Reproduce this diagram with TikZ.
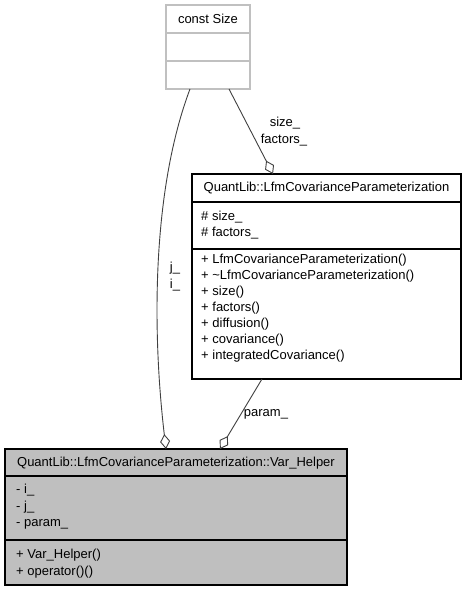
\documentclass[tikz,border=0pt]{standalone}
\usepackage{fontspec}
\setmainfont{Liberation Sans}
\usetikzlibrary{arrows.meta}
\definecolor{edgec}{HTML}{404040}
\definecolor{graybox}{HTML}{BFBFBF}
\definecolor{lightborder}{HTML}{C0C0C0}
\tikzset{
  comp/.style={draw=black, line width=1.1pt, inner sep=0pt, outer sep=0pt, anchor=north west},
  lcomp/.style={draw=lightborder, fill=white, line width=1.1pt, inner sep=0pt, outer sep=0pt, anchor=north west},
  gcomp/.style={comp, fill=graybox},
  txt/.style={inner sep=0pt, anchor=west, font=\fontsize{13}{16}\selectfont},
  ctxt/.style={inner sep=0pt, anchor=center, font=\fontsize{13}{16}\selectfont},
  edge/.style={draw=edgec, line width=0.9pt},
  agg/.style={-{Diamond[fill=white,length=15pt,width=10pt,line width=0.9pt]}},
}
\begin{document}
\begin{tikzpicture}[x=1pt,y=-1pt]
\useasboundingbox (0,0) rectangle (465,592);

% const Size
\node[lcomp, minimum width=84pt, minimum height=28pt] (cst) at (166,5) {};
\node[lcomp, minimum width=84pt, minimum height=28pt] (csa) at (166,33) {};
\node[lcomp, minimum width=84pt, minimum height=28pt] (csm) at (166,61) {};
\node[ctxt] (cstt) at (208,19) {const Size};

% LfmCovarianceParameterization
\node[comp, fill=white, minimum width=269pt, minimum height=28pt] (lt) at (192,174) {};
\node[comp, fill=white, minimum width=269pt, minimum height=47pt] (la) at (192,202) {};
\node[comp, fill=white, minimum width=269pt, minimum height=130pt] (lm) at (192,249) {};
\node[ctxt] (ltt) at (326.5,188) {QuantLib::LfmCovarianceParameterization};
\node[txt] (la1) at (201,217) {\# size\_};
\node[txt] (la2) at (201,233) {\# factors\_};
\node[txt] (lm1) at (201,260) {+ LfmCovarianceParameterization()};
\node[txt] (lm2) at (201,276) {+ \textasciitilde LfmCovarianceParameterization()};
\node[txt] (lm3) at (201,292) {+ size()};
\node[txt] (lm4) at (201,308) {+ factors()};
\node[txt] (lm5) at (201,324) {+ diffusion()};
\node[txt] (lm6) at (201,340) {+ covariance()};
\node[txt] (lm7) at (201,356) {+ integratedCovariance()};

% Var_Helper
\node[gcomp, minimum width=342pt, minimum height=27pt] (vt) at (5,449) {};
\node[gcomp, minimum width=342pt, minimum height=64pt] (va) at (5,476) {};
\node[gcomp, minimum width=342pt, minimum height=45pt] (vm) at (5,540) {};
\node[ctxt] (vtt) at (176,463) {QuantLib::LfmCovarianceParameterization::Var\_Helper};
\node[txt] (va1) at (16,490) {- i\_};
\node[txt] (va2) at (16,507) {- j\_};
\node[txt] (va3) at (16,524) {- param\_};
\node[txt] (vm1) at (16,555) {+ Var\_Helper()};
\node[txt] (vm2) at (16,572) {+ operator()()};

% edges
\draw[edge, agg] ([xshift=63pt]csm.south west) -- ([xshift=81pt]lt.north west);
\node[ctxt] (l1) at (285,123) {size\_};
\node[ctxt] (l2) at (284,140) {factors\_};

\draw[edge, agg] ([xshift=24pt]csm.south west) .. controls (152,190) and (152,330) .. ([xshift=161pt]vt.north west);
\node[ctxt] (l3) at (175,268) {j\_};
\node[ctxt] (l4) at (175,285) {i\_};

\draw[edge, agg] ([xshift=70pt]lm.south west) -- ([xshift=215pt]vt.north west);
\node[ctxt] (l5) at (266,414) {param\_};
\end{tikzpicture}
\end{document}
